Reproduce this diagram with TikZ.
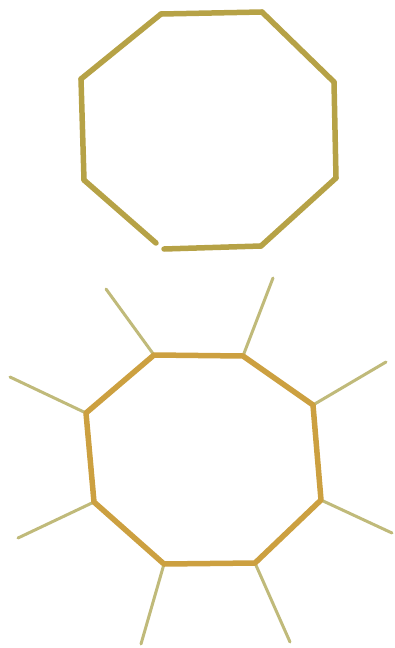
\documentclass[tikz,border=0pt]{standalone}
\definecolor{rodtop}{RGB}{182,162,70}
\definecolor{rodbot}{RGB}{204,160,64}
\definecolor{spoke}{RGB}{192,186,122}
\tikzset{
  toprod/.style={draw=rodtop,line width=5.5pt,line cap=round},
  botrod/.style={draw=rodbot,line width=5.5pt,line cap=round,line join=round},
  spokerod/.style={draw=spoke,line width=3pt,line cap=round}
}
\begin{document}
\begin{tikzpicture}[x=1pt,y=-1pt]
\useasboundingbox (0,0) rectangle (394,648);
% top octagon
\coordinate (t1) at (161,14);
\coordinate (t2) at (262,12);
\coordinate (t3) at (334,82);
\coordinate (t4) at (336,178);
\coordinate (t5) at (261,246);
\coordinate (t6) at (164,249);
\coordinate (t6b) at (156,243);
\coordinate (t7) at (84,180);
\coordinate (t8) at (81,79);
\draw[toprod] (t1) -- (t2);
\draw[toprod] (t2) -- (t3);
\draw[toprod] (t3) -- (t4);
\draw[toprod] (t4) -- (t5);
\draw[toprod] (t5) -- (t6);
\draw[toprod] (t6b) -- (t7);
\draw[toprod] (t7) -- (t8);
\draw[toprod] (t8) -- (t1);
% bottom octagon
\coordinate (a) at (154,355);
\coordinate (b) at (243,356);
\coordinate (c) at (313,405);
\coordinate (d) at (321,500);
\coordinate (e) at (255,563);
\coordinate (f) at (164,564);
\coordinate (g) at (94,502);
\coordinate (h) at (86,413);
\coordinate (sa) at (106,289);
\coordinate (sb) at (273,278);
\coordinate (sc) at (386,362);
\coordinate (sd) at (392,533);
\coordinate (se) at (290,642);
\coordinate (sf) at (141,644);
\coordinate (sg) at (18,538);
\coordinate (sh) at (10,377);
\foreach \p/\q in {a/sa,b/sb,c/sc,d/sd,e/se,f/sf,g/sg,h/sh}
  \draw[spokerod] (\p) -- (\q);
\draw[botrod] (a) -- (b) -- (c) -- (d) -- (e) -- (f) -- (g) -- (h) -- cycle;
\end{tikzpicture}
\end{document}
